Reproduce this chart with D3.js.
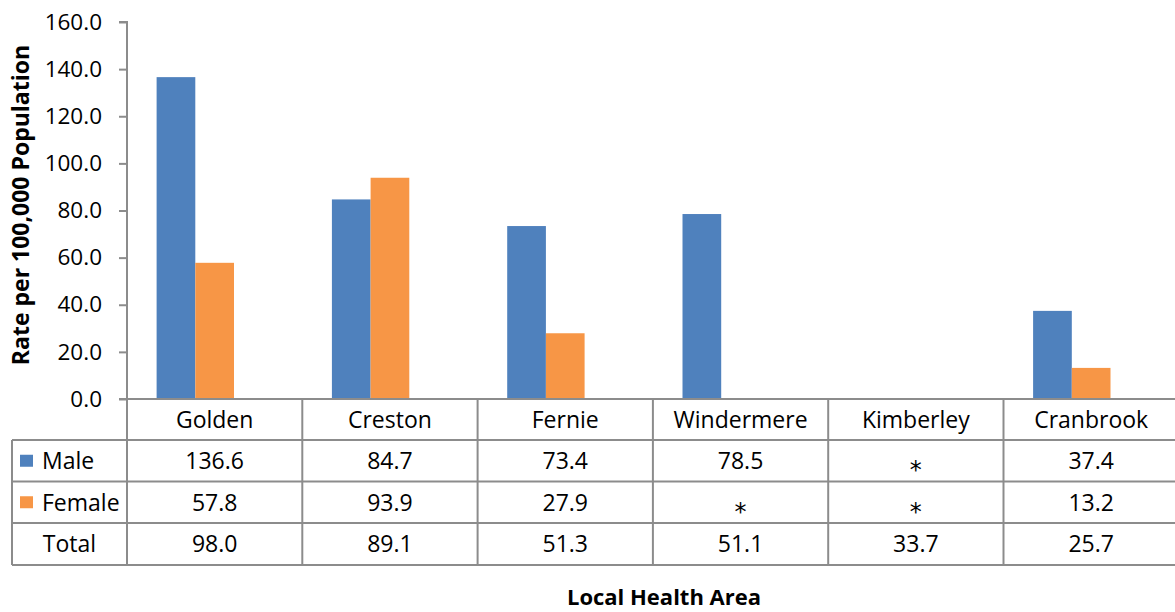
<!DOCTYPE html>
<html><head><meta charset="utf-8">
<script src="https://cdn.jsdelivr.net/npm/d3@7"></script>
<style>body{margin:0;background:#fff}svg{display:block}text{font-family:"Open Sans",sans-serif;fill:#000}</style>
</head><body>
<svg id="c" width="1175" height="612"></svg>
<script>
const categories = ["Golden","Creston","Fernie","Windermere","Kimberley","Cranbrook"];
const seriesNames = ["Male","Female","Total"];
const male   = [136.6, 84.7, 73.4, 78.5, null, 37.4];
const female = [57.8, 93.9, 27.9, null, null, 13.2];
const total  = [98.0, 89.1, 51.3, 51.1, 33.7, 25.7];
const yTicks = [0,20,40,60,80,100,120,140,160];
const colors = {Male:"#4F81BD", Female:"#F79646", Total:"none"};
const values = {Male:male, Female:female, Total:total};

const svg = d3.select("#c");
const x0 = 127, bandW = 175.3;
const x = d3.scaleBand().domain(categories).range([x0, x0 + bandW*categories.length]).padding(0);
const xs = d3.scaleBand().domain(seriesNames).range([0, x.bandwidth()]).paddingInner(0).paddingOuter(0.765);
const y = d3.scaleLinear().domain([0,160]).range([399,22]);
const grid = "#8c8c8c";

// bars (Total series is present but not filled, as in the source)
seriesNames.filter(s => s !== "Total").forEach(s => {
  svg.append("g").selectAll("rect").data(categories.map((c,i)=>({c,v:values[s][i]})).filter(d=>d.v!=null))
    .join("rect")
    .attr("x", d => x(d.c) + xs(s))
    .attr("width", xs.bandwidth())
    .attr("y", d => y(d.v))
    .attr("height", d => y(0) - y(d.v))
    .attr("fill", colors[s]);
});

// y axis
const ya = svg.append("g").attr("transform",`translate(${x0},0)`)
  .call(d3.axisLeft(y).tickValues(yTicks).tickSize(8).tickPadding(17).tickFormat(d3.format(".1f")));
ya.select(".domain").attr("stroke",grid).attr("stroke-width",2).attr("d",`M-8,${y(160)}H0V${y(0)}`);
ya.selectAll(".tick line").attr("stroke",grid).attr("stroke-width",2);
ya.selectAll(".tick text").attr("font-size",22.5).attr("fill","#000");

// data table
const rowTop = [399, 440, 481.5, 523, 565];
const tl = svg.append("g").attr("stroke",grid).attr("stroke-width",2).attr("fill","none");
const xRight = x.range()[1];
tl.append("line").attr("x1",x0-8).attr("x2",xRight).attr("y1",rowTop[0]).attr("y2",rowTop[0]);
rowTop.slice(1).forEach(r => tl.append("line").attr("x1",12).attr("x2",xRight).attr("y1",r).attr("y2",r));
tl.append("line").attr("x1",12).attr("x2",12).attr("y1",rowTop[1]).attr("y2",rowTop[4]);
tl.append("line").attr("x1",x0).attr("x2",x0).attr("y1",y(0)).attr("y2",rowTop[4]);
categories.forEach(c => {
  const bx = x(c)+x.bandwidth();
  tl.append("line").attr("x1",bx).attr("x2",bx).attr("y1",rowTop[0]).attr("y2",rowTop[4]);
});

const fs = 23;
// category labels
svg.append("g").selectAll("text").data(categories).join("text")
  .attr("x", c => x(c)+x.bandwidth()/2).attr("y", (rowTop[0]+rowTop[1])/2)
  .attr("dy","0.36em").attr("text-anchor","middle").attr("font-size",fs).text(c=>c);

// rows
seriesNames.forEach((s,ri) => {
  const cy = (rowTop[ri+1]+rowTop[ri+2])/2;
  if (s !== "Total") {
    svg.append("rect").attr("x",20).attr("y",cy-6).attr("width",13).attr("height",12).attr("fill",colors[s]);
    svg.append("text").attr("x",42).attr("y",cy).attr("dy","0.36em").attr("font-size",fs).text(s);
  } else {
    svg.append("text").attr("x",(12+x0)/2).attr("y",cy).attr("dy","0.36em").attr("text-anchor","middle").attr("font-size",fs).text(s);
  }
  svg.append("g").selectAll("text").data(categories.map((c,i)=>({c,v:values[s][i]}))).join("text")
    .attr("x", d => x(d.c)+x.bandwidth()/2).attr("y", cy)
    .attr("dy", d => d.v==null ? "0.72em" : "0.36em")
    .attr("text-anchor","middle")
    .attr("font-size", d => d.v==null ? 24 : fs)
    .style("font-family", d => d.v==null ? '"DejaVu Sans",sans-serif' : null)
    .text(d => d.v==null ? "*" : d3.format(".1f")(d.v));
});

// axis titles
svg.append("text").attr("transform","translate(29,205) rotate(-90)").attr("text-anchor","middle")
  .attr("font-size",23).attr("font-weight","bold").text("Rate per 100,000 Population");
svg.append("text").attr("x",664).attr("y",605).attr("text-anchor","middle")
  .attr("font-size",22).attr("font-weight","bold").text("Local Health Area");
</script>
</body></html>
